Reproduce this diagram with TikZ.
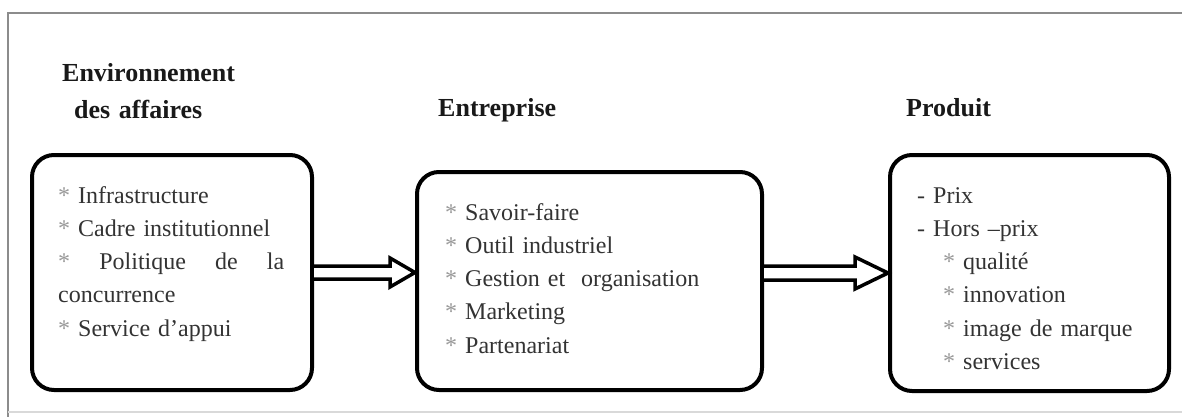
\documentclass[tikz,border=0pt]{standalone}
\usepackage{fontspec}
\setmainfont{Liberation Serif}
\usetikzlibrary{calc}
\tikzset{
  box/.style={draw=black, line width=4, rounded corners=22, inner sep=0, fill=white},
  title/.style={font=\fontsize{26}{36}\selectfont\bfseries, anchor=base west, inner sep=0, text=black!90, align=left},
  body/.style={font=\fontsize{24}{33.3}\selectfont, anchor=base west, inner sep=0, text=black!80, align=left},
  arrowbody/.style={draw=black, line width=3.5, fill=white, line join=miter},
  frame/.style={draw=black!45, line width=2},
}
\newcommand\bul{{\color{black!40}*}}
\begin{document}
\begin{tikzpicture}[x=1pt,y=-1pt]
\useasboundingbox (0,0) rectangle (1182,417);
\draw[frame] (1190,13) -- (8,13) -- (8,420);
\draw[draw=black!15, line width=1.5] (8,412) -- (1190,412);
% boxes
\node[box, minimum width=280, minimum height=235] (env) at (172,272.5) {};
\node[box, minimum width=345, minimum height=218] (ent) at (589.5,281) {};
\node[box, minimum width=279, minimum height=236] (prod) at (1029.5,273) {};
% titles
\node[title, text width=220] (tenv) at (62,82) {Environnement\\\hspace*{12pt}des affaires};
\node[title] (tent) at (438,117) {Entreprise};
\node[title] (tprod) at (906,117) {Produit};
% body texts
\node[body, text width=226] (xenv) at (58,203) {%
\hspace*{0pt}\bul\ Infrastructure\\
\bul\ Cadre institutionnel\\
\makebox[226pt][s]{\bul\hfill Politique\hfill de\hfill la}\\
concurrence\\
\bul\ Service d'appui};
\node[body, text width=280] (xent) at (445,220) {%
\bul\ Savoir-faire\\
\bul\ Outil industriel\\
\bul\ Gestion et\ \ organisation\\
\bul\ Marketing\\
\bul\ Partenariat};
\node[body, text width=240] (xprod) at (917,203) {%
- Prix\\
- Hors --prix\\
\hspace*{26pt}\bul\ qualité\\
\hspace*{26pt}\bul\ innovation\\
\hspace*{26pt}\bul\ image de marque\\
\hspace*{26pt}\bul\ services};
% hollow arrows
\coordinate (a1s) at (env.east);
\coordinate (a1t) at (ent.west |- env.east);
\draw[arrowbody] ($(a1s)+(0,-6.5)$) -- ($(a1t)+(-25,-6.5)$) -- ($(a1t)+(-25,-14.5)$) -- (a1t)
  -- ($(a1t)+(-25,14.5)$) -- ($(a1t)+(-25,6.5)$) -- ($(a1s)+(0,6.5)$);
\coordinate (a2s) at (ent.east |- prod.west);
\coordinate (a2t) at (prod.west);
\draw[arrowbody] ($(a2s)+(0,-7)$) -- ($(a2t)+(-33,-7)$) -- ($(a2t)+(-33,-16)$) -- (a2t)
  -- ($(a2t)+(-33,16)$) -- ($(a2t)+(-33,7)$) -- ($(a2s)+(0,7)$);
\end{tikzpicture}
\end{document}
